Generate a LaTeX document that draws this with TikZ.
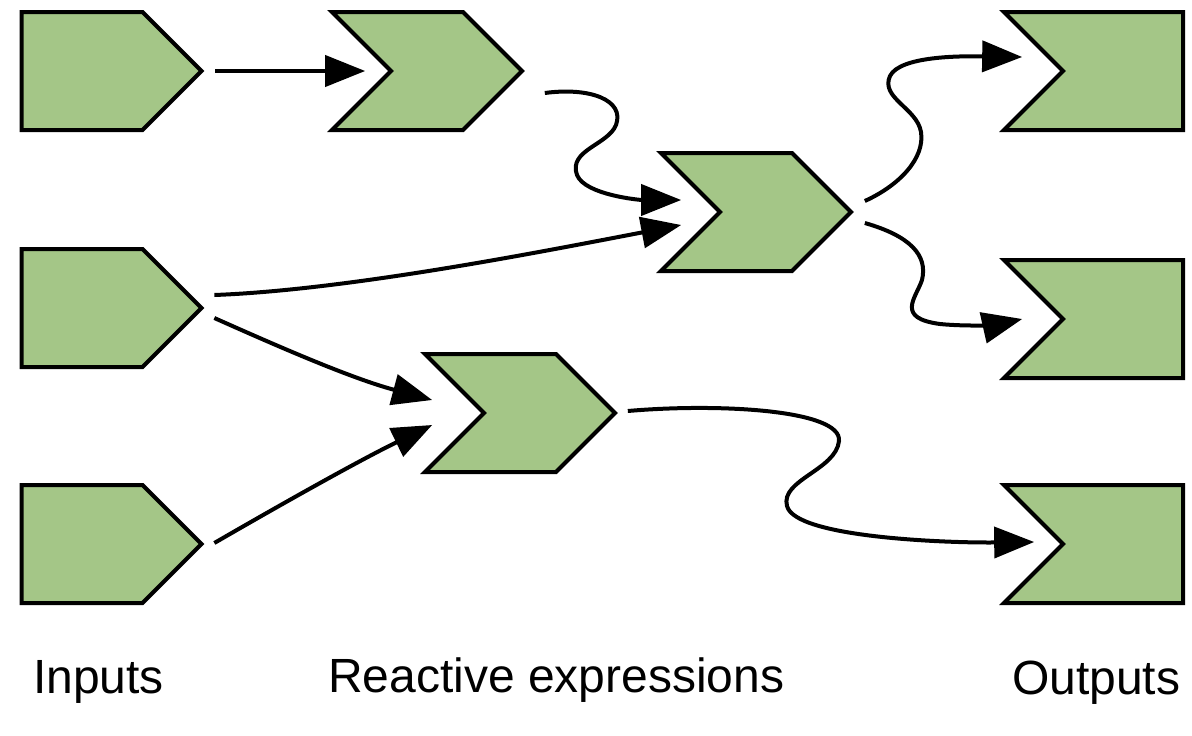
\documentclass[tikz,border=0pt]{standalone}
\usepackage{fontspec}
\setmainfont{Liberation Sans}
\usetikzlibrary{shapes.symbols,arrows.meta}
\definecolor{boxgreen}{RGB}{164,198,135}
\tikzset{
	box/.style={signal, draw, fill=boxgreen, line width=4pt, inner sep=0pt,
		minimum height=118pt, signal pointer angle=90},
	inbox/.style={box, signal to=east, minimum width=180pt},
	rebox/.style={box, signal to=east, signal from=west, minimum width=190pt},
	outbox/.style={box, signal to=nowhere, signal from=west, minimum width=179pt},
	link/.style={line width=4pt, -{Triangle[length=40pt,width=31pt]}},
	caption/.style={anchor=base west, inner sep=0pt, font=\fontsize{48pt}{56pt}\selectfont}
}
\begin{document}
\begin{tikzpicture}[x=1pt, y=-1pt]
		\useasboundingbox (0, 0) rectangle (1192, 736);
		
		%% inputs
		\node[inbox] (in1) at (82, 71) {};
		\node[inbox] (in2) at (82, 308) {};
		\node[inbox] (in3) at (82, 544) {};
		
		%% reactive expressions
		\node[rebox] (re1) at (427, 71) {};
		\node[rebox] (re2) at (756, 212) {};
		\node[rebox] (re3) at (520, 413) {};
		
		%% outputs
		\node[outbox] (out1) at (1123, 71) {};
		\node[outbox] (out2) at (1123, 319) {};
		\node[outbox] (out3) at (1123, 544) {};
		
		%% links
		\draw[link] ([xshift=11]in1.east) -- ([xshift=-23]re1.west);
		\draw[link] ([shift={(20,22)}]re1.east) .. controls (590, 87) and (625, 100) .. (616, 125)
			.. controls (608, 145) and (568, 150) .. (577, 175)
			.. controls (585, 195) and (640, 200) .. ([shift={(-36,-12)}]re2.west);
		\draw[link] ([shift={(10,-13)}]in2.east) .. controls (350, 290) and (550, 250) .. ([shift={(-36,13)}]re2.west);
		\draw[link] ([shift={(10,10)}]in2.east) .. controls (275, 345) and (350, 378) .. ([shift={(-49,-13)}]re3.west);
		\draw[link] ([shift={(10,-1)}]in3.east) .. controls (280, 505) and (360, 460) .. ([shift={(-49,12)}]re3.west);
		\draw[link] ([shift={(11,-11)}]re2.east) .. controls (900, 185) and (925, 158) .. (921, 132)
			.. controls (917, 108) and (880, 98) .. (890, 76)
			.. controls (900, 56) and (960, 56) .. ([shift={(-38,-14)}]out1.west);
		\draw[link] ([shift={(11,11)}]re2.east) .. controls (910, 236) and (928, 255) .. (922, 280)
			.. controls (916, 298) and (895, 318) .. (940, 324)
			.. controls (970, 327) and (1000, 324) .. ([xshift=-38]out2.west);
		\draw[link] ([shift={(10,-2)}]re3.east) .. controls (720, 403) and (842, 410) .. (839, 441)
			.. controls (836, 470) and (780, 480) .. (787, 506)
			.. controls (795, 538) and (950, 543) .. ([shift={(-26,-2)}]out3.west);
		
		%% captions
		\node[caption] (lin) at (33, 693) {Inputs};
		\node[caption] (lre) at (328, 692) {Reactive expressions};
		\node[caption] (lout) at (1012, 694) {Outputs};
	\end{tikzpicture}
\end{document}
